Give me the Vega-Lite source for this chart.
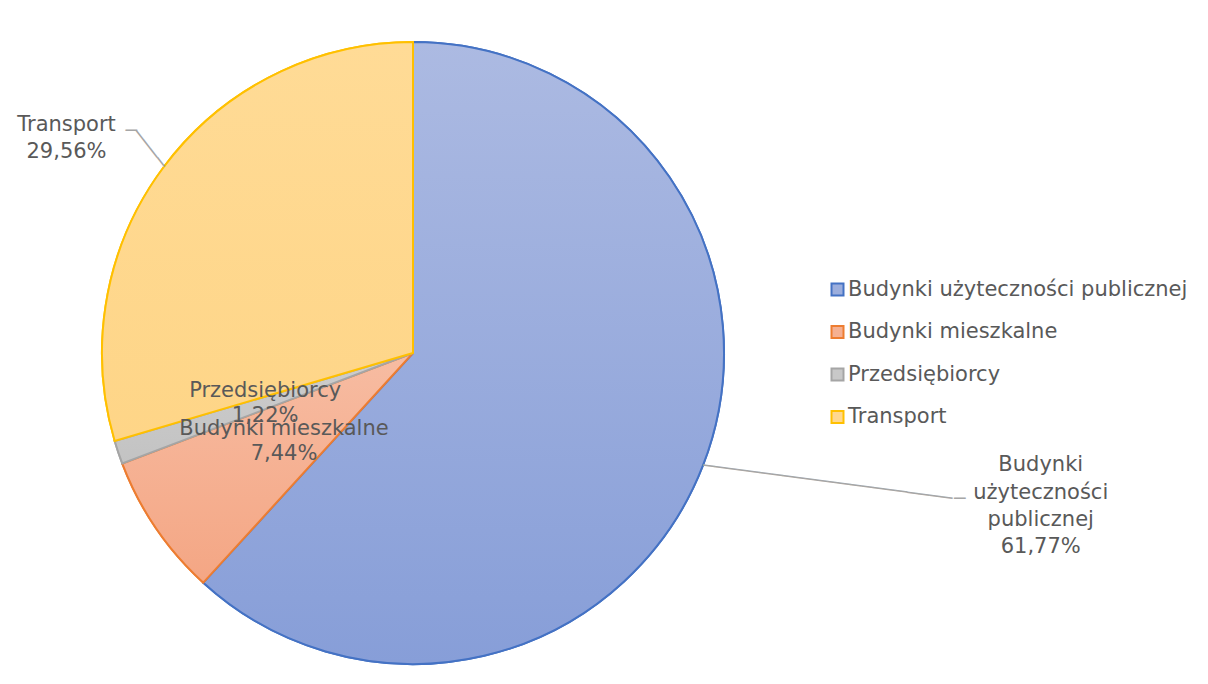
{
  "$schema": "https://vega.github.io/schema/vega-lite/v6.json",
  "width": 826,
  "height": 660,
  "padding": {"left": 0, "top": 23, "right": 0, "bottom": 0},
  "background": "#ffffff",
  "config": {
    "view": {"stroke": null},
    "font": "DejaVu Sans",
    "legend": {
      "orient": "none",
      "legendX": 827,
      "legendY": 256,
      "labelFont": "DejaVu Sans",
      "labelFontSize": 21,
      "labelColor": "#595959",
      "labelLimit": 0,
      "symbolType": "square",
      "symbolSize": 144,
      "symbolStrokeWidth": 2,
      "rowPadding": 20.5,
      "labelOffset": 0,
      "padding": 0
    }
  },
  "data": {
    "values": [
      {"cat": "Budynki użyteczności publicznej", "value": 61.77, "ord": 1, "label": "Budynki\nużyteczności\npublicznej\n61,77%"},
      {"cat": "Budynki mieszkalne", "value": 7.44, "ord": 2, "label": "Budynki mieszkalne\n7,44%"},
      {"cat": "Przedsiębiorcy", "value": 1.22, "ord": 3, "label": "Przedsiębiorcy\n1,22%"},
      {"cat": "Transport", "value": 29.56, "ord": 4, "label": "Transport\n29,56%"}
    ]
  },
  "encoding": {
    "theta": {"field": "value", "type": "quantitative", "stack": true},
    "order": {"field": "ord", "type": "quantitative"},
    "detail": {"field": "cat", "type": "nominal"}
  },
  "layer": [
    {
      "mark": {"type": "arc", "radius": 311, "strokeWidth": 2},
      "encoding": {
        "fill": {
          "field": "cat", "type": "nominal", "title": null,
          "scale": {
            "domain": ["Budynki użyteczności publicznej", "Budynki mieszkalne", "Przedsiębiorcy", "Transport"],
            "range": ["#9CAEDD", "#F5B092", "#C8C8C8", "#FFD88F"]
          }
        },
        "stroke": {
          "field": "cat", "type": "nominal", "title": null,
          "scale": {
            "domain": ["Budynki użyteczności publicznej", "Budynki mieszkalne", "Przedsiębiorcy", "Transport"],
            "range": ["#4472C4", "#ED7D31", "#A5A5A5", "#FFC000"]
          }
        }
      }
    },
    {
      "mark": {"type": "arc", "radius": 311, "strokeWidth": 2, "stroke": "#4472C4",
        "fill": {"gradient": "linear", "x1": 0, "y1": 0, "x2": 0, "y2": 1,
          "stops": [{"offset": 0, "color": "#ACBAE2"}, {"offset": 1, "color": "#879ED8"}]}},
      "encoding": {"opacity": {"condition": {"test": "datum.ord === 1", "value": 1}, "value": 0}}
    },
    {
      "mark": {"type": "arc", "radius": 311, "strokeWidth": 2, "stroke": "#ED7D31",
        "fill": {"gradient": "linear", "x1": 0, "y1": 0, "x2": 0, "y2": 1,
          "stops": [{"offset": 0, "color": "#F7BCA2"}, {"offset": 1, "color": "#F4A684"}]}},
      "encoding": {"opacity": {"condition": {"test": "datum.ord === 2", "value": 1}, "value": 0}}
    },
    {
      "mark": {"type": "arc", "radius": 311, "strokeWidth": 2, "stroke": "#A5A5A5",
        "fill": {"gradient": "linear", "x1": 0, "y1": 0, "x2": 0, "y2": 1,
          "stops": [{"offset": 0, "color": "#CDCDCD"}, {"offset": 1, "color": "#C3C3C3"}]}},
      "encoding": {"opacity": {"condition": {"test": "datum.ord === 3", "value": 1}, "value": 0}}
    },
    {
      "mark": {"type": "arc", "radius": 311, "strokeWidth": 2, "stroke": "#FFC000",
        "fill": {"gradient": "linear", "x1": 0, "y1": 0, "x2": 0, "y2": 1,
          "stops": [{"offset": 0, "color": "#FFDB96"}, {"offset": 1, "color": "#FED587"}]}},
      "encoding": {"opacity": {"condition": {"test": "datum.ord === 4", "value": 1}, "value": 0}}
    },
    {
      "mark": {"type": "text", "radius": 156, "dy": -12, "font": "DejaVu Sans", "fontSize": 21, "lineHeight": 25.5, "lineBreak": "\n", "color": "#595959", "align": "center", "baseline": "middle"},
      "encoding": {"text": {"condition": {"test": "datum.ord === 2 || datum.ord === 3", "field": "label", "type": "nominal"}, "value": ""}}
    },
    {
      "mark": {"type": "text", "radius": 311, "dx": -97.4, "dy": -41.5, "font": "DejaVu Sans", "fontSize": 21, "lineHeight": 26.5, "lineBreak": "\n", "color": "#595959", "align": "center", "baseline": "middle"},
      "encoding": {"text": {"condition": {"test": "datum.ord === 4", "field": "label", "type": "nominal"}, "value": ""}}
    },
    {
      "mark": {"type": "text", "radius": 311, "dx": 337.8, "dy": 0, "font": "DejaVu Sans", "fontSize": 21, "lineHeight": 27.3, "lineBreak": "\n", "color": "#595959", "align": "center", "baseline": "middle"},
      "encoding": {"text": {"condition": {"test": "datum.ord === 1", "field": "label", "type": "nominal"}, "value": ""}}
    },
    {
      "mark": {"type": "text", "radius": 311, "angle": 52, "font": "DejaVu Sans", "fontSize": 19, "color": "#A6A6A6", "align": "right", "baseline": "middle"},
      "encoding": {"text": {"condition": {"test": "datum.ord === 4", "value": "────"}, "value": ""}}
    },
    {
      "mark": {"type": "text", "radius": 311, "dx": -27, "dy": -36, "font": "DejaVu Sans", "fontSize": 19, "color": "#A6A6A6", "align": "right", "baseline": "middle"},
      "encoding": {"text": {"condition": {"test": "datum.ord === 4", "value": "─"}, "value": ""}}
    },
    {
      "mark": {"type": "text", "radius": 311, "angle": 7.6, "font": "DejaVu Sans", "fontSize": 19, "color": "#A6A6A6", "align": "left", "baseline": "middle"},
      "encoding": {"text": {"condition": {"test": "datum.ord === 1", "value": "──────────────────────"}, "value": ""}}
    },
    {
      "mark": {"type": "text", "radius": 311, "dx": 251, "dy": 33.6, "font": "DejaVu Sans", "fontSize": 19, "color": "#A6A6A6", "align": "left", "baseline": "middle"},
      "encoding": {"text": {"condition": {"test": "datum.ord === 1", "value": "─"}, "value": ""}}
    }
  ]
}
